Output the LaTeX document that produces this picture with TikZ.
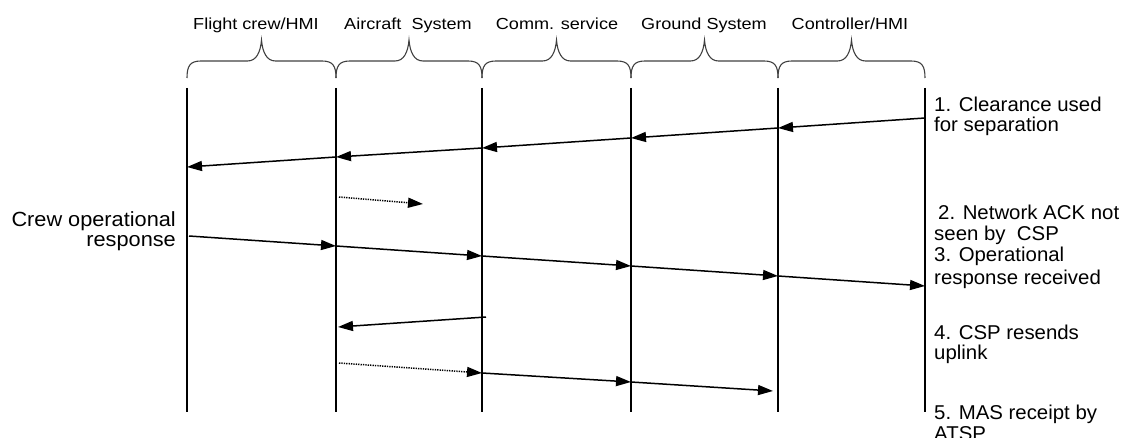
\documentclass[tikz,border=0pt]{standalone}
\usepackage{fontspec}
\setmainfont{Liberation Sans}[FakeStretch=1.02]
\newfontfamily\hdrfont{Liberation Sans}[FakeStretch=1.13]
\newfontfamily\leftfont{Liberation Sans}[FakeStretch=1.06]
\usetikzlibrary{arrows.meta}
\tikzset{
  life/.style={draw=black, line width=1.3pt},
  brc/.style={draw=black!75, line width=1.1pt},
  hdr/.style={inner sep=0pt, anchor=base, font=\hdrfont\fontsize{16}{18}\selectfont},
  lbl/.style={inner sep=0pt, anchor=base west, font=\fontsize{20}{20}\selectfont},
  lblr/.style={inner sep=0pt, anchor=base east, font=\leftfont\fontsize{20.5}{20}\selectfont},
  msg/.style={draw=black, line width=1.5pt, -{Triangle[length=15pt,width=10pt]}},
  dmsg/.style={msg, dash pattern=on 1.3pt off 1.1pt}
}
\begin{document}
\begin{tikzpicture}[x=1pt,y=-1pt]
\useasboundingbox (0,0) rectangle (1125,438);
% lifelines
\foreach \n/\x in {f/187,a/336,c/482,g/631,k/778,r/925}{
  \coordinate (\n top) at (\x,88);
  \coordinate (\n bot) at (\x,412);
}
\foreach \n in {f,a,c,g,k,r}{ \draw[life] (\n top) -- (\n bot); }
% braces
\foreach \xa/\xb in {187/336,336/482,482/631,631/778,778/925}{
  \pgfmathsetmacro\m{(\xa+\xb)/2}
  \draw[brc] (\xa,78) .. controls (\xa,66) and (\xa+3,61) .. (\xa+14,61)
    -- (\m-14,61) .. controls (\m-5,61) and (\m-1,52) .. (\m,40)
    .. controls (\m+1,52) and (\m+5,61) .. (\m+14,61)
    -- (\xb-14,61) .. controls (\xb-3,61) and (\xb,66) .. (\xb,78);
}
% headers
\node[hdr] (h1) at (256,30) {Flight crew/HMI};
\node[hdr] (h2) at (408,30) {Aircraft\ \ System};
\node[hdr] (h3) at (557,30) {Comm. service};
\node[hdr] (h4) at (704,30) {Ground\ System};
\node[hdr] (h5) at (850,30) {Controller/HMI};
% message points
\coordinate (r1) at (925,118);
\coordinate (k1) at (778,128);
\coordinate (g1) at (631,138);
\coordinate (c1) at (482,148);
\coordinate (a1) at (336,157);
\coordinate (f1) at (187,167);
\coordinate (d2s) at (339,197);
\coordinate (d2e) at (423,204);
\coordinate (f3) at (189,236);
\coordinate (a3) at (336,246);
\coordinate (c3) at (482,256);
\coordinate (g3) at (631,266);
\coordinate (k3) at (778,276);
\coordinate (r3) at (925,286);
\coordinate (c4) at (486,317);
\coordinate (a4) at (338,327);
\coordinate (a5) at (339,363);
\coordinate (c5) at (482,373);
\coordinate (g5) at (631,382);
\coordinate (e5) at (773,391);
% messages
\draw[msg] (r1) -- (k1);
\draw[msg] (k1) -- (g1);
\draw[msg] (g1) -- (c1);
\draw[msg] (c1) -- (a1);
\draw[msg] (a1) -- (f1);
\draw[dmsg] (d2s) -- (d2e);
\draw[msg] (f3) -- (a3);
\draw[msg] (a3) -- (c3);
\draw[msg] (c3) -- (g3);
\draw[msg] (g3) -- (k3);
\draw[msg] (k3) -- (r3);
\draw[msg] (c4) -- (a4);
\draw[dmsg] (a5) -- (c5);
\draw[msg] (c5) -- (g5);
\draw[msg] (g5) -- (e5);
% left label
\node[lblr] (cl1) at (176,227) {Crew operational};
\node[lblr] (cl2) at (176,247) {response};
% right labels
\node[lbl] (s1a) at (934,112) {1. Clearance used};
\node[lbl] (s1b) at (934,132) {for separation};
\node[lbl] (s2a) at (938,220) {2. Network ACK not};
\node[lbl] (s2b) at (934,241) {seen by\ \ CSP};
\node[lbl] (s3a) at (934,262) {3. Operational};
\node[lbl] (s3b) at (934,285) {response received};
\node[lbl] (s4a) at (934,340) {4. CSP resends};
\node[lbl] (s4b) at (934,360) {uplink};
\node[lbl] (s5a) at (934,420) {5. MAS receipt by};
\node[lbl] (s5b) at (934,440) {ATSP};
\end{tikzpicture}
\end{document}
